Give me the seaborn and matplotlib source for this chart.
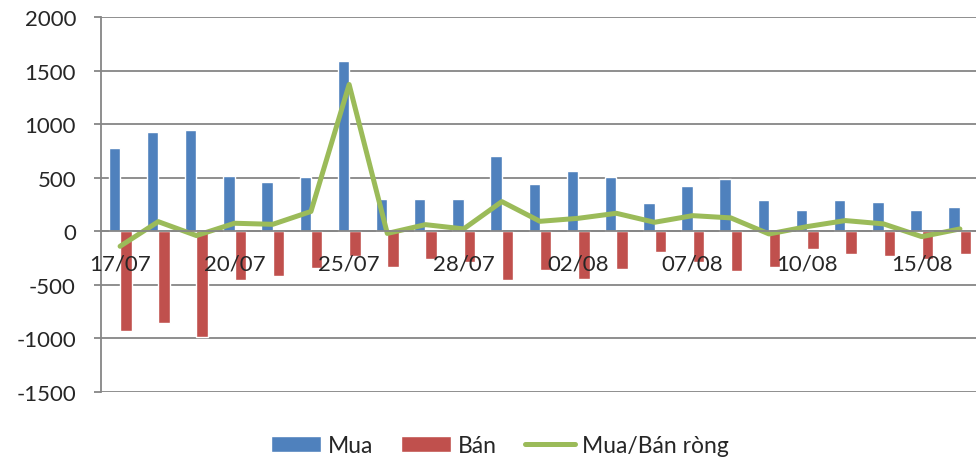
import numpy as np
import pandas as pd
import matplotlib
matplotlib.use("Agg")
import matplotlib.pyplot as plt
from matplotlib.patches import Patch
from matplotlib.lines import Line2D
import seaborn as sns

# dates (trading days)
dates = ['17/07', '18/07', '19/07', '20/07', '21/07', '24/07', '25/07', '26/07',
         '27/07', '28/07', '31/07', '01/08', '02/08', '03/08', '04/08', '07/08',
         '08/08', '09/08', '10/08', '11/08', '14/08', '15/08', '16/08']

mua = [780, 930, 945, 515, 460, 510, 1590, 305, 300, 300, 707, 442, 560, 510,
       265, 424, 490, 296, 196, 290, 271, 200, 224]
ban = [-928, -860, -984, -455, -417, -340, -234, -336, -255, -285, -452, -361,
       -445, -355, -196, -290, -374, -330, -168, -212, -227, -259, -215]
rong = [-140, 90, -40, 75, 65, 185, 1370, -20, 62, 22, 277, 93, 121, 168, 84,
        146, 125, -25, 44, 100, 69, -50, 22]

c_mua = '#4F81BD'
c_ban = '#C0504D'
c_rong = '#9BBB59'
grid_c = '#868686'

df = pd.DataFrame({
    'Ngay': dates * 2,
    'Gia tri': mua + ban,
    'Loai': ['Mua'] * len(dates) + ['Bán'] * len(dates),
})

sns.set_style('white')
plt.rcParams['font.family'] = ['Lato', 'DejaVu Sans']
plt.rcParams['axes.unicode_minus'] = False

fig = plt.figure(figsize=(9.76, 4.6), dpi=100)
ax = fig.add_axes([101 / 976, 1 - 393 / 460, 878 / 976, (393 - 18) / 460])

yticks = np.arange(-1500, 2001, 500)
for yv in yticks:
    ax.axhline(yv, color=grid_c, linewidth=1.3, zorder=0.5)

sns.barplot(data=df, x='Ngay', y='Gia tri', hue='Loai', order=dates,
            hue_order=['Mua', 'Bán'], palette=[c_mua, c_ban], width=0.6,
            dodge=True, legend=False, saturation=1, ax=ax, zorder=1)

x = np.arange(len(dates))
sns.lineplot(x=x, y=rong, color=c_rong, linewidth=3.6, ax=ax, zorder=2,
             solid_joinstyle='round', solid_capstyle='round')

ax.set_xlim(-0.5, len(dates) - 0.5)
ax.set_ylim(-1500, 2000)
ax.set_yticks(yticks)
ax.set_xlabel('')
ax.set_ylabel('')
ax.grid(False)
ax.set_axisbelow(False)

for s in ['top', 'right']:
    ax.spines[s].set_visible(False)
ax.spines['left'].set_color(grid_c)
ax.spines['left'].set_linewidth(1.3)
ax.spines['bottom'].set_position(('data', 0))
ax.spines['bottom'].set_color(grid_c)
ax.spines['bottom'].set_linewidth(1.3)

ax.set_xticks(x[::3])
ax.set_xticklabels(dates[::3])
ax.set_xticks(np.arange(-0.5, len(dates), 1.0), minor=True)
ax.tick_params(axis='x', which='major', length=0, pad=16, labelsize=16)
ax.tick_params(axis='x', which='minor', length=5, width=1.3, color=grid_c,
               direction='out')
ax.tick_params(axis='y', length=5, width=1.3, color=grid_c, direction='out',
               pad=13, labelsize=16, left=True)

handles = [Patch(facecolor=c_mua, label='Mua'),
           Patch(facecolor=c_ban, label='Bán'),
           Line2D([0], [0], color=c_rong, linewidth=3.6, solid_capstyle='round',
                  label='Mua/Bán ròng')]
fig.legend(handles=handles, loc='center', bbox_to_anchor=(0.512, 0.03),
           ncol=3, frameon=False, fontsize=16.5, handlelength=2.2,
           handleheight=0.72, columnspacing=1.2, handletextpad=0.3)

fig.savefig('out.png', dpi=100)
